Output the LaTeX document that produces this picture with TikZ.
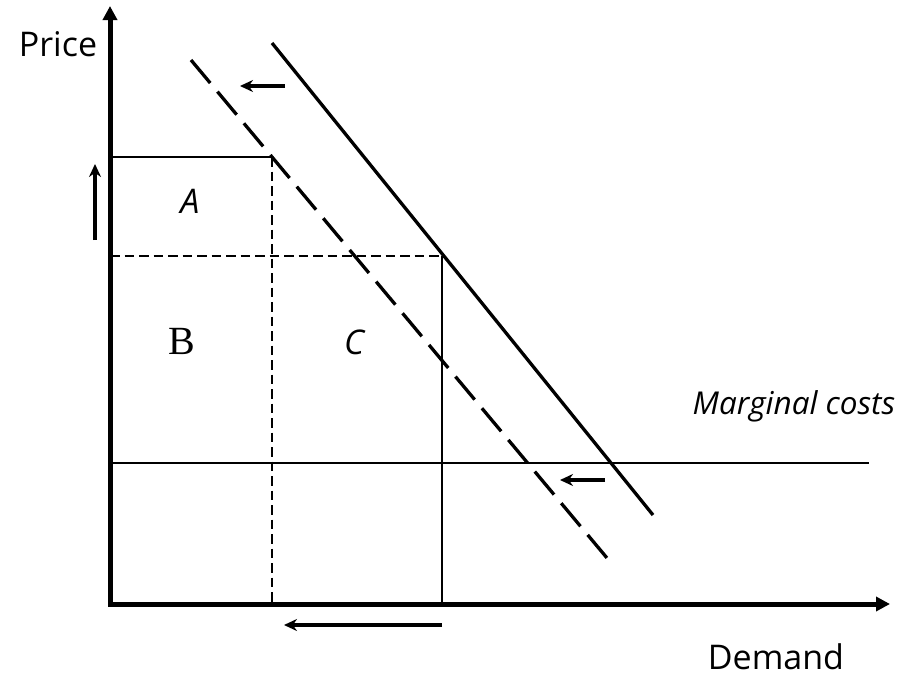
\documentclass[tikz,border=0pt]{standalone}
\usepackage{fontspec}
\setmainfont{Open Sans}
\newfontfamily\serifB{Liberation Serif}
\usetikzlibrary{arrows.meta}
\begin{document}
\begin{tikzpicture}[x=1pt,y=-1pt,
  axisline/.style={line width=5pt,-{Triangle[length=14pt,width=14pt]}},
  thinline/.style={line width=1.5pt},
  thindash/.style={line width=1.5pt,dash pattern=on 9.5pt off 5pt},
  demandline/.style={line width=3.3pt},
  demanddash/.style={line width=3.3pt,dash pattern=on 30pt off 11.25pt},
  shiftarrow/.style={line width=3.2pt,-{Stealth[length=13pt,width=12pt]}},
  lbl/.style={inner sep=0pt,font=\fontsize{34}{40}\selectfont}]
\useasboundingbox (0,0) rectangle (911,675);
% key points
\coordinate (O) at (110,604);
\coordinate (Ytop) at (110,6);
\coordinate (Xend) at (890,604);
\coordinate (P1) at (110,157);
\coordinate (Q1) at (272,157);
\coordinate (Q1b) at (272,604);
\coordinate (P2) at (110,256);
\coordinate (Q2) at (442,256);
\coordinate (Q2b) at (442,604);
\coordinate (MC0) at (110,463);
\coordinate (MC1) at (869,463);
\coordinate (D0) at (272,43);
\coordinate (D1) at (653,515);
\coordinate (E0) at (191,60);
\coordinate (E1) at (607,558);
% arrows coordinates
\coordinate (a1s) at (285,86);
\coordinate (a1e) at (240,86);
\coordinate (a2s) at (605,480);
\coordinate (a2e) at (560,480);
\coordinate (a3s) at (95,240);
\coordinate (a3e) at (95,164);
\coordinate (a4s) at (442,625);
\coordinate (a4e) at (284,625);
% grid lines
\draw[thinline] (P1) -- (Q1);
\draw[thindash] (Q1) -- (Q1b);
\draw[thindash] (P2) -- (Q2);
\draw[thinline] (Q2) -- (Q2b);
\draw[thinline] (MC0) -- (MC1);
% demand curves
\draw[demandline] (D0) -- (D1);
\draw[demanddash] (E0) -- (E1);
% axes
\draw[axisline,line cap=rect] (O) -- (Ytop);
\draw[axisline] (O) -- (Xend);
% shift arrows
\draw[shiftarrow] (a1s) -- (a1e);
\draw[shiftarrow] (a2s) -- (a2e);
\draw[shiftarrow] (a3s) -- (a3e);
\draw[shiftarrow] (a4s) -- (a4e);
% labels
\node[lbl] (price) at (58,44) {Price};
\node[lbl] (demandlbl) at (776,657) {Demand};
\node[lbl,font=\fontsize{31.5}{36}\selectfont\itshape] (mc) at (794,406) {Marginal costs};
\node[lbl,font=\fontsize{34}{38}\selectfont\itshape] (A) at (190,201) {A};
\node[lbl,font=\fontsize{40}{44}\selectfont\serifB] (B) at (182,341) {B};
\node[lbl,font=\fontsize{34}{38}\selectfont\itshape] (C) at (354,342) {C};
\end{tikzpicture}
\end{document}
